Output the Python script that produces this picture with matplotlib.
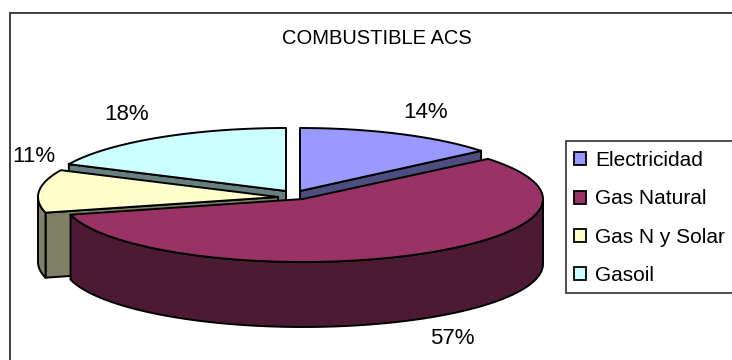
import matplotlib
matplotlib.use("Agg")
import matplotlib.pyplot as plt
from matplotlib.patches import Patch, Polygon
import numpy as np

# --- Data ---
title = "COMBUSTIBLE ACS"
categories = ["Electricidad", "Gas Natural", "Gas N y Solar", "Gasoil"]
shares = [14, 57, 11, 18]
topColors = ["#9999FF", "#993366", "#FFFFCC", "#CCFFFF"]
sideColors = ["#4D4D80", "#4D1A33", "#808066", "#668080"]

# --- Pie geometry, in pixels ---
radiiX = [235, 240, 240, 240]
radiusY = 63
depth = 65
apexes = [(300, 191), (303, 199), (278, 197), (286, 191)]   # slices are pulled apart
labelPositions = [(426, 112), (452, 339), (34, 157), (127, 115)]
drawOrder = [3, 0, 2, 1]    # back to front

plt.rcParams['font.family'] = ['Liberation Sans', 'DejaVu Sans']

fig = plt.figure(figsize=(7.32, 3.60), dpi=100)
ax = fig.add_axes([0, 0, 1, 1])
ax.set_xlim(0, 732)
ax.set_ylim(360, 0)
ax.axis('off')


# Points on the rim of a slice, angles clockwise from 12 o'clock
def rim(apex, radiusX, start, end):
    angles = np.radians(np.linspace(start, end, 80))
    return np.column_stack((apex[0] + radiusX * np.sin(angles),
                            apex[1] - radiusY * np.cos(angles)))


# The part of the rim facing the viewer gets an outer wall
def drawWall(apex, radiusX, start, end, color):
    low = max(start, 90)
    high = min(end, 270)
    if low >= high:
        return
    edge = rim(apex, radiusX, low, high)
    wall = np.vstack((edge, edge[::-1] + [0, depth]))
    ax.add_patch(Polygon(wall, facecolor=color, edgecolor='black', lw=1.4, joinstyle='round'))


def drawCut(apex, point, color):
    face = [apex, point, (point[0], point[1] + depth), (apex[0], apex[1] + depth)]
    ax.add_patch(Polygon(face, facecolor=color, edgecolor='black', lw=1.4))


edges = np.cumsum([0] + shares) * 3.6

# Chart border: only top and left fall inside the saved area
ax.plot([732, 10, 10], [13, 13, 360], color='#303030', lw=1.3, solid_joinstyle='miter')

for i in drawOrder:
    start, end = edges[i], edges[i + 1]
    apex = apexes[i]
    edge = rim(apex, radiiX[i], start, end)
    # cut faces are only seen on the sides turned towards the viewer
    if end <= 90:
        drawCut(apex, edge[-1], sideColors[i])
    if start >= 180:
        drawCut(apex, edge[0], sideColors[i])
    drawWall(apex, radiiX[i], start, end, sideColors[i])
    ax.add_patch(Polygon(np.vstack(([apex], edge)), facecolor=topColors[i],
                         edgecolor='black', lw=1.4, joinstyle='round'))

for share, (x, y) in zip(shares, labelPositions):
    ax.text(x, y, f"{share}%", fontsize=16, ha='center', va='center', color='black')

ax.text(376.5, 38, title, fontsize=14.5, ha='center', va='center', color='black')

# Legend box runs off the right side
ax.plot([732, 566, 566, 732], [141, 141, 292.5, 292.5], color='#303030', lw=1.2,
        solid_joinstyle='miter')

handles = [Patch(facecolor=c, edgecolor='black', lw=1.3) for c in topColors]
leg = ax.legend(handles, categories, loc='upper left', bbox_to_anchor=(574, 151),
                bbox_transform=ax.transData, fontsize=15, frameon=False,
                borderaxespad=0, borderpad=0,
                handlelength=0.58, handleheight=0.58, handletextpad=0.42, labelspacing=0.93)

fig.savefig("out.png", dpi=100)
